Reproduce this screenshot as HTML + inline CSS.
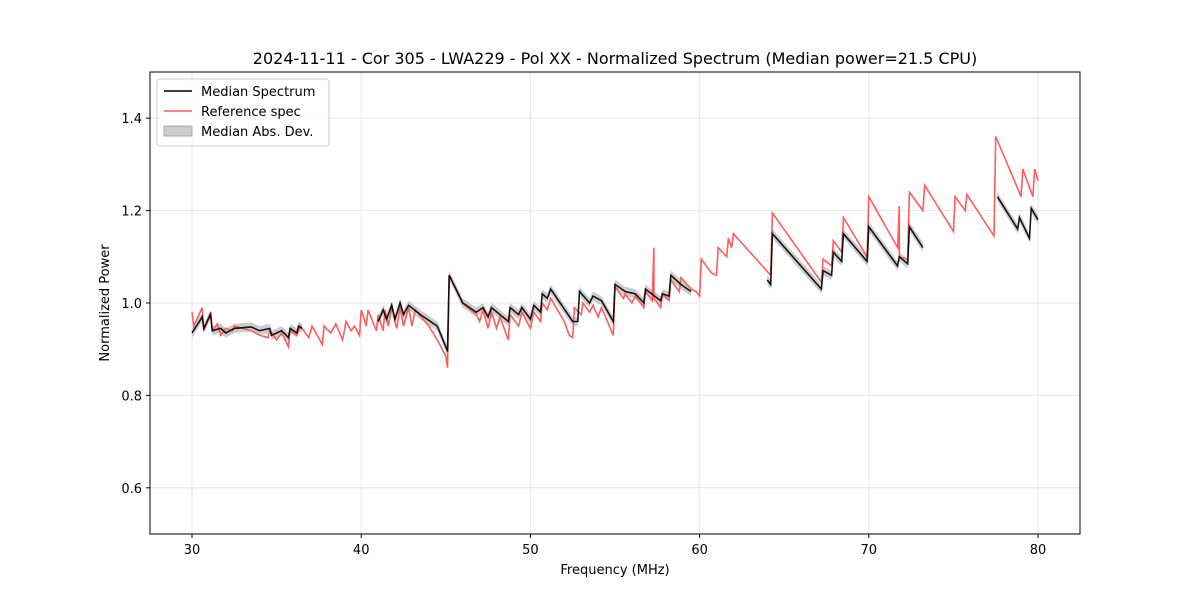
<!DOCTYPE html>
<html><head><meta charset="utf-8"><style>
body{margin:0;background:#fff}
svg text{font-family:"DejaVu Sans","Liberation Sans",sans-serif;fill:#000}
</style></head><body>
<svg id="chart" width="1200" height="600">
<text x="615" y="64" font-size="16" text-anchor="middle">2024-11-11 - Cor 305 - LWA229 - Pol XX - Normalized Spectrum (Median power=21.5 CPU)</text>
<g id="grid"></g><g id="band"></g><g id="lines"></g>
<rect x="150" y="72" width="930" height="462" fill="none" stroke="#000" stroke-width="1"/>
<g id="ticks"></g>
<text x="615" y="574" font-size="13" text-anchor="middle">Frequency (MHz)</text>
<text transform="translate(109,303) rotate(-90)" font-size="13" text-anchor="middle">Normalized Power</text>
<g>
<rect x="157" y="79" width="172" height="67" rx="3" fill="#fff" fill-opacity="0.8" stroke="#ccc"/>
<line x1="164" y1="91" x2="192" y2="91" stroke="#000" stroke-width="1.5"/>
<text x="201" y="96" font-size="13">Median Spectrum</text>
<line x1="164" y1="111" x2="192" y2="111" stroke="#ff5c5c" stroke-width="1.5"/>
<text x="201" y="116" font-size="13">Reference spec</text>
<rect x="164" y="126" width="28" height="10" fill="#ccc" stroke="#aaa"/>
<text x="201" y="136" font-size="13">Median Abs. Dev.</text>
</g>
</svg>
<script>
const xTicks=[30,40,50,60,70,80];
const yTicks=[0.6,0.8,1.0,1.2,1.4];
const refFreq=[30.0,30.1,30.6,30.7,31.1,31.2,31.5,31.7,32.0,32.4,32.5,33.0,33.5,34,34.5,34.6,35.0,35.3,35.7,35.8,36.2,36.4,36.9,37.1,37.7,37.8,38.2,38.5,38.9,39.1,39.4,39.6,39.9,40.0,40.3,40.4,40.9,41.0,41.3,41.4,41.6,41.8,42.1,42.3,42.5,42.8,43.0,43.2,44.0,44.5,45.0,45.1,45.2,46.0,46.8,47.0,47.2,47.5,47.7,48.0,48.2,48.7,48.8,49.3,49.5,50.0,50.2,50.6,50.7,51.0,51.2,51.6,52.0,52.3,52.5,52.6,53.0,53.1,53.5,53.7,54.0,54.2,54.9,55.0,55.5,55.6,56.0,56.2,56.7,56.8,57.2,57.3,57.3,57.7,57.8,58.2,58.3,58.8,58.9,59.5,59.8,60.0,60.1,60.6,60.7,61.0,61.1,61.6,61.7,61.9,62.0,64.2,64.3,67.2,67.3,67.8,67.9,68.4,68.5,69.9,70.0,71.7,71.8,71.8,72.3,72.4,73.2,73.3,75.0,75.1,75.7,75.8,77.4,77.5,79.0,79.1,79.7,79.8,80];
const refVals=[0.98,0.95,0.99,0.94,0.98,0.94,0.955,0.93,0.945,0.94,0.95,0.945,0.94,0.93,0.925,0.94,0.92,0.935,0.905,0.94,0.93,0.95,0.925,0.95,0.91,0.95,0.935,0.955,0.92,0.96,0.94,0.95,0.93,0.985,0.95,0.985,0.94,0.975,0.94,0.985,0.95,0.99,0.945,0.99,0.95,0.99,0.95,0.985,0.95,0.92,0.885,0.86,1.06,1.0,0.975,0.96,0.985,0.945,0.98,0.945,0.97,0.92,0.975,0.95,0.98,0.945,0.98,0.96,1.0,0.985,1.01,0.985,0.96,0.93,0.925,0.99,0.975,1.0,0.98,0.995,0.97,0.99,0.93,1.035,1.01,1.02,1.0,1.015,0.99,1.025,1.005,1.12,1.01,0.99,1.02,1.005,1.05,1.025,1.055,1.03,1.025,1.015,1.095,1.07,1.065,1.06,1.12,1.1,1.14,1.12,1.15,1.06,1.195,1.045,1.095,1.08,1.135,1.11,1.185,1.1,1.23,1.12,1.21,1.1,1.095,1.24,1.2,1.255,1.155,1.23,1.2,1.235,1.145,1.36,1.23,1.29,1.23,1.29,1.265];
const medFreq1=[30.0,30.6,30.7,31.1,31.2,31.7,32,32.5,33.5,34.0,34.6,34.7,35.0,35.3,35.7,35.8,36.2,36.3,36.5];
const medVals1=[0.935,0.97,0.945,0.975,0.94,0.945,0.935,0.945,0.948,0.94,0.945,0.93,0.935,0.94,0.925,0.945,0.935,0.95,0.945];
const medFreq2=[41.0,41.3,41.5,41.8,42.0,42.3,42.5,42.8,43.5,44.5,45.0,45.1,45.2,46.0,46.8,47.2,47.5,47.7,48.2,48.7,48.8,49.3,49.5,50.0,50.2,50.6,50.7,51.0,51.2,52.5,52.8,52.9,53.5,53.7,54.2,54.9,55.0,55.6,56.2,56.7,56.8,57.7,57.8,58.2,58.3,58.9,59.5];
const medVals2=[0.96,0.985,0.965,0.995,0.965,1.0,0.975,0.995,0.975,0.95,0.905,0.895,1.06,1.0,0.98,0.99,0.97,0.99,0.975,0.96,0.99,0.975,0.99,0.965,0.995,0.98,1.02,1.01,1.03,0.96,0.96,1.025,1.0,1.015,1.005,0.96,1.04,1.025,1.02,1.0,1.03,1.005,1.02,1.015,1.06,1.04,1.025];
const medFreq3=[64.0,64.2,64.3,67.2,67.3,67.8,67.9,68.4,68.5,69.9,70.0,71.7,71.8,72.3,72.4,73.2];
const medVals3=[1.05,1.04,1.15,1.03,1.07,1.06,1.11,1.09,1.15,1.09,1.165,1.08,1.1,1.085,1.165,1.12];
const medFreq4=[77.6,78.8,78.9,79.5,79.6,80];
const medVals4=[1.23,1.16,1.185,1.14,1.205,1.18];
const madWidth=0.01;

const NS='http://www.w3.org/2000/svg';
const xs=f=>192+(f-30)*(1038-192)/50;
const ys=v=>534-(v-0.5)*462;
function mk(tag,attrs,parent){const e=document.createElementNS(NS,tag);for(const k in attrs)e.setAttribute(k,attrs[k]);document.getElementById(parent).appendChild(e);return e;}
xTicks.forEach(t=>{
 const g=mk('line',{x1:xs(t),x2:xs(t),y1:72,y2:534,stroke:'#e6e6e6','stroke-width':1},'grid');
 
 
 const tk=mk('line',{x1:xs(t),x2:xs(t),y1:534,y2:538,stroke:'#000'},'ticks');
 
 
 const l=mk('text',{x:xs(t),y:554,'font-size':13,'text-anchor':'middle'},'ticks');l.textContent=t;
 
 
});
yTicks.forEach(t=>{
 const g=mk('line',{x1:150,x2:1080,y1:ys(t),y2:ys(t),stroke:'#e6e6e6','stroke-width':1},'grid');
 
 
 const tk=mk('line',{x1:146,x2:150,y1:ys(t),y2:ys(t),stroke:'#000'},'ticks');
 
 
 const l=mk('text',{x:142,y:ys(t)+5,'font-size':13,'text-anchor':'end'},'ticks');l.textContent=t.toFixed(1);
 
 
});
const pts=(F,V)=>F.map((f,i)=>xs(f).toFixed(1)+','+ys(V[i]).toFixed(1)).join(' ');
const ref=mk('polyline',{points:pts(refFreq,refVals),fill:'none',stroke:'#ff5c5c','stroke-width':1.6},'lines');


[[medFreq1,medVals1],[medFreq2,medVals2],[medFreq3,medVals3],[medFreq4,medVals4]].forEach(([F,V],k)=>{
 const up=F.map((f,i)=>xs(f).toFixed(1)+','+ys(V[i]+madWidth).toFixed(1));
 const dn=F.map((f,i)=>xs(f).toFixed(1)+','+ys(V[i]-madWidth).toFixed(1)).reverse();
 const b=mk('polygon',{points:up.concat(dn).join(' '),fill:'#999','fill-opacity':0.5,stroke:'none'},'band');
 
 
 const m=mk('polyline',{points:pts(F,V),fill:'none',stroke:'#000','stroke-width':1.6,'stroke-opacity':0.9},'lines');
 
 
});
</script>
</body></html>
